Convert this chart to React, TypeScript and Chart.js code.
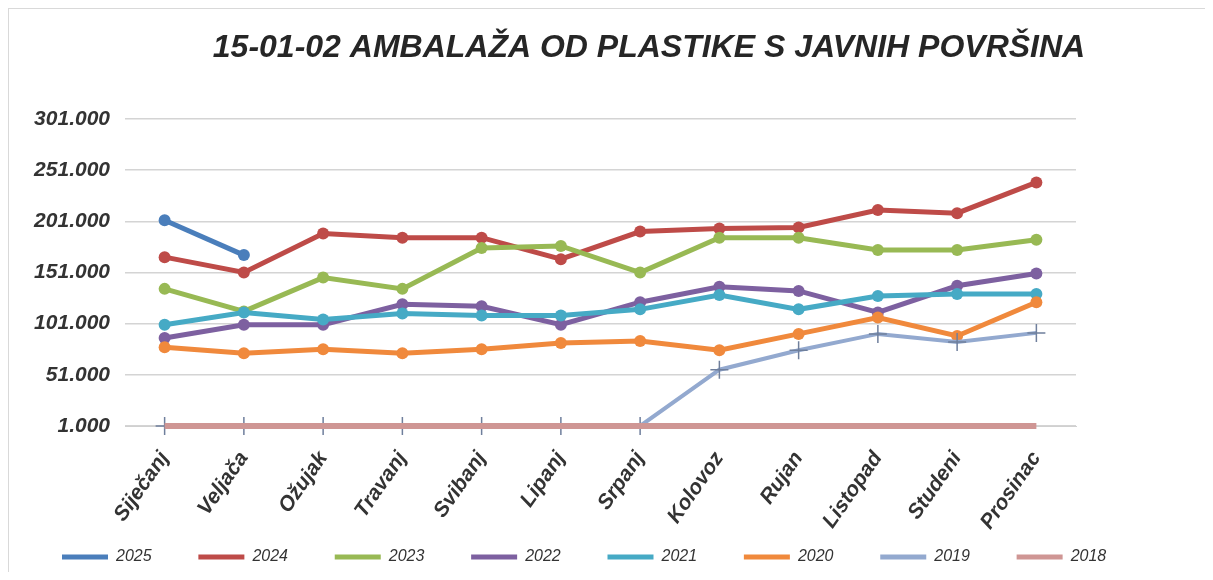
import React, { useEffect, useRef } from "react";
import { Chart, registerables } from "chart.js";

Chart.register(...registerables);

const TITLE = "15-01-02 AMBALAŽA OD PLASTIKE S JAVNIH POVRŠINA";
const MONTHS = ["Siječanj", "Veljača", "Ožujak", "Travanj", "Svibanj", "Lipanj", "Srpanj", "Kolovoz", "Rujan", "Listopad", "Studeni", "Prosinac"];

const Y2025 = [202000, 168000, null, null, null, null, null, null, null, null, null, null];
const Y2024 = [166000, 151000, 189000, 185000, 185000, 164000, 191000, 194000, 195000, 212000, 209000, 239000];
const Y2023 = [135000, 113000, 146000, 135000, 175000, 177000, 151000, 185000, 185000, 173000, 173000, 183000];
const Y2022 = [87000, 100000, 100000, 120000, 118000, 100000, 122000, 137000, 133000, 112000, 138000, 150000];
const Y2021 = [100000, 112000, 105000, 111000, 109000, 109000, 115000, 129000, 115000, 128000, 130000, 130000];
const Y2020 = [78000, 72000, 76000, 72000, 76000, 82000, 84000, 75000, 91000, 107000, 89000, 122000];
const Y2019 = [1000, 1000, 1000, 1000, 1000, 1000, 1000, 56000, 75000, 91000, 83000, 92000];
const Y2018 = [1000, 1000, 1000, 1000, 1000, 1000, 1000, 1000, 1000, 1000, 1000, 1000];

const SERIES = [
  { label: "2025", data: Y2025, color: "#4A7EBB" },
  { label: "2024", data: Y2024, color: "#BE4B48" },
  { label: "2023", data: Y2023, color: "#98B954" },
  { label: "2022", data: Y2022, color: "#7D60A0" },
  { label: "2021", data: Y2021, color: "#46AAC5" },
  { label: "2020", data: Y2020, color: "#F0893C" },
  { label: "2019", data: Y2019, color: "#93A9CF" },
  { label: "2018", data: Y2018, color: "#CF9694" },
];

const Y_MIN = 1000;
const Y_MAX = 301000;
const Y_STEP = 50000;

const fmt = (v: number) => String(Math.round(v)).replace(/\B(?=(\d{3})+(?!\d))/g, ".");

const titlePlugin = {
  id: "customTitle",
  afterDraw(chart: any) {
    const ctx = chart.ctx;
    ctx.save();
    ctx.font = "italic bold 32px 'Liberation Sans', Arial, sans-serif";
    ctx.fillStyle = "#262626";
    ctx.textAlign = "center";
    ctx.textBaseline = "alphabetic";
    ctx.fillText(TITLE, 640, 48);
    ctx.restore();
  },
};

export default function App() {
  const ref = useRef<HTMLCanvasElement>(null);
  useEffect(() => {
    if (!ref.current) return;
    const n = SERIES.length;
    const datasets = SERIES.map((s, i) => {
      const is2019 = s.label === "2019";
      const is2018 = s.label === "2018";
      return {
        label: s.label,
        data: s.data,
        borderColor: s.color,
        backgroundColor: s.color,
        borderWidth: is2018 ? 6 : is2019 ? 4 : 5,
        pointRadius: is2018 ? 0 : is2019 ? 9 : 6,
        pointStyle: is2019 ? "cross" : "circle",
        pointBorderWidth: is2019 ? 1.5 : 0,
        pointBorderColor: is2019 ? "#6f7f9c" : s.color,
        pointBackgroundColor: s.color,
        tension: 0,
        spanGaps: false,
        clip: false,
        yAxisID: "y",
        order: n - 1 - i,
      };
    });
    const chart = new Chart(ref.current, {
      type: "line",
      data: { labels: MONTHS, datasets: datasets as any },
      plugins: [titlePlugin],
      options: {
        responsive: false,
        animation: false,
        layout: { padding: { left: 24, right: 0, top: 110, bottom: 0 } },
        plugins: {
          title: { display: false },
          tooltip: { enabled: false },
          legend: {
            position: "bottom",
            align: "start",
            maxHeight: 52,
            labels: {
              boxWidth: 46,
              boxHeight: 5,
              padding: 29,
              color: "#333",
              font: { family: "'Liberation Sans', Arial, sans-serif", size: 16, style: "italic" },
              sort: (a: any, b: any) => a.datasetIndex - b.datasetIndex,
              generateLabels: (c: any) =>
                Chart.defaults.plugins.legend.labels
                  .generateLabels(c)
                  .map((l: any) => ({ ...l, lineWidth: 0, text: l.text + "\u0020\u0020\u0020\u0020" })),
            },
          },
        },
        scales: {
          x: {
            offset: true,
            grid: { display: false, drawTicks: false },
            border: { display: true, color: "#d0d0d0" },
            afterFit: (s: any) => { s.height = 94; },
            afterUpdate: (s: any) => { s._computeLabelArea = () => undefined; },
            ticks: {
              minRotation: 55,
              maxRotation: 55,
              padding: 21,
              color: "#333",
              font: { family: "'Liberation Sans', Arial, sans-serif", size: 21, weight: "bold", style: "italic" },
            },
          },
          y: {
            min: Y_MIN,
            max: Y_MAX,
            afterFit: (s: any) => { s.width = 92; },
            afterBuildTicks: (s: any) => {
              const t = [];
              for (let v = Y_MIN; v <= Y_MAX; v += Y_STEP) t.push({ value: v });
              s.ticks = t;
            },
            grid: { color: "#d4d4d4", lineWidth: 1.5, drawTicks: false },
            border: { display: false },
            ticks: {
              padding: 15,
              color: "#333",
              font: { family: "'Liberation Sans', Arial, sans-serif", size: 21, weight: "bold", style: "italic" },
              callback: (v: any) => fmt(Number(v)),
            },
          },
          yRight: {
            type: "linear",
            position: "right",
            display: true,
            min: Y_MIN,
            max: Y_MAX,
            afterFit: (s: any) => { s.width = 129; },
            grid: { display: false, drawTicks: false },
            border: { display: false },
            ticks: { display: false },
          },
        },
      } as any,
    });
    return () => chart.destroy();
  }, []);
  return (
    <div style={{ width: 1197, height: 564, borderTop: "1px solid #d9d9d9", borderLeft: "1px solid #d9d9d9", boxSizing: "border-box", background: "#fff" }}>
      <canvas ref={ref} width={1196} height={563} style={{ display: "block" }} />
    </div>
  );
}
